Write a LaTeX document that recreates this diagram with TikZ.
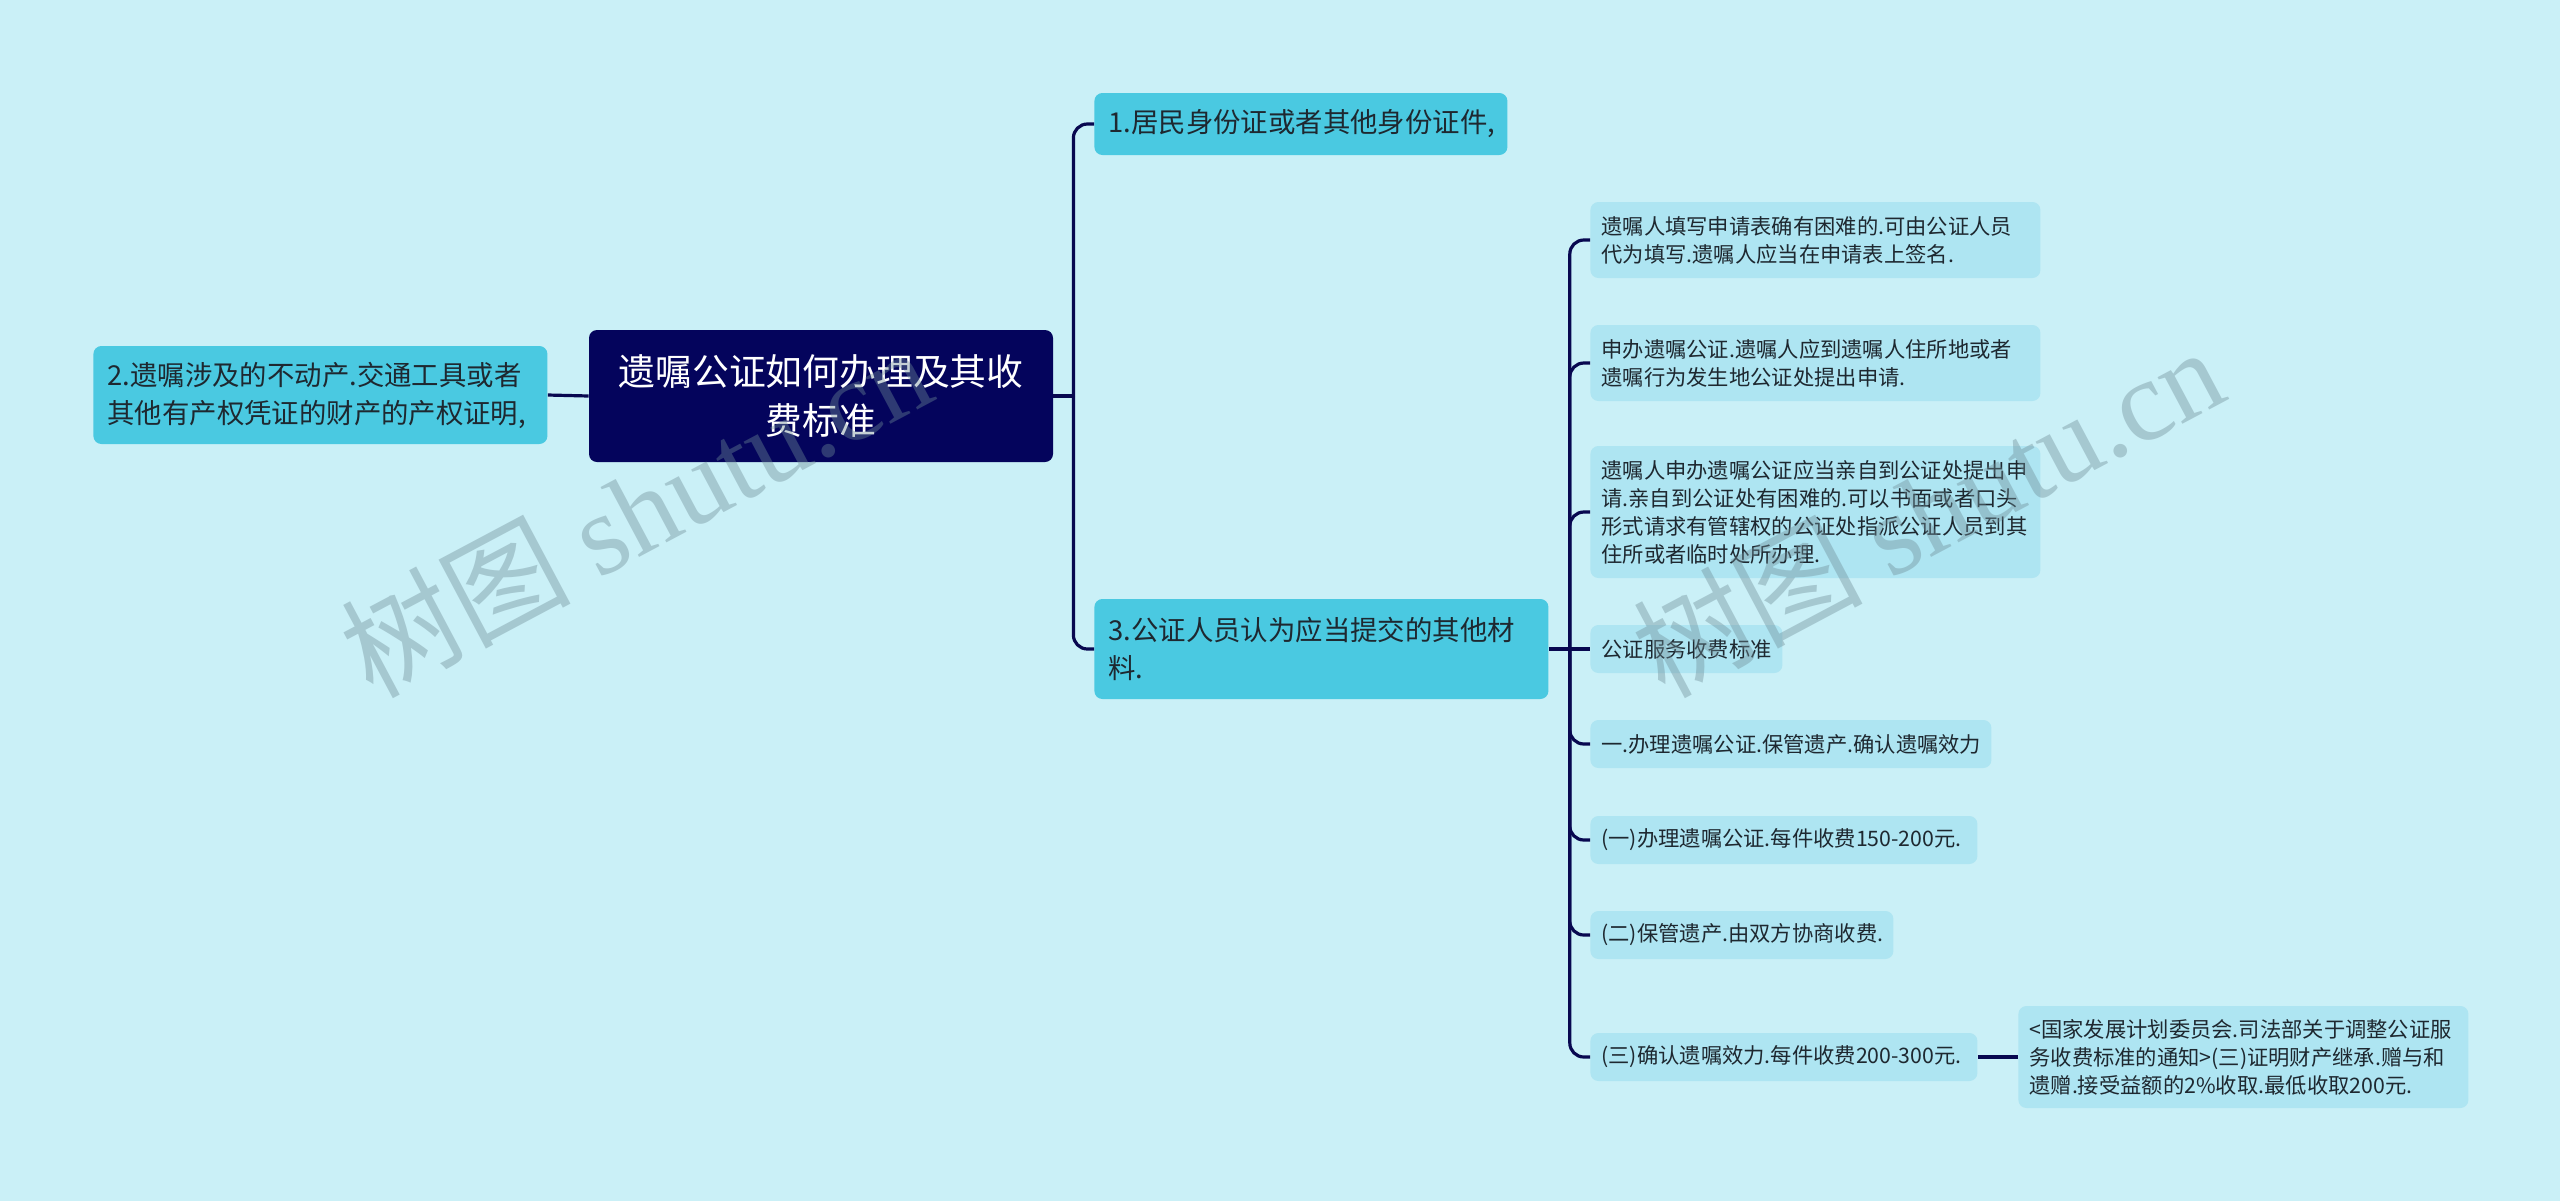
\documentclass[tikz,border=0pt]{standalone}
\usepackage{fontspec}
\setmainfont{Noto Sans CJK SC}
\newfontfamily\wmlatin{Liberation Serif}
\usetikzlibrary{calc}
\definecolor{bgc}{RGB}{202,240,247}
\definecolor{rootc}{RGB}{4,4,92}
\definecolor{lvone}{RGB}{74,201,225}
\definecolor{lvtwo}{RGB}{174,229,242}
\definecolor{linec}{RGB}{8,8,80}
\definecolor{txtc}{RGB}{30,40,48}
\definecolor{wmc}{RGB}{110,140,150}
\begin{document}
\begin{tikzpicture}[x=0.5pt,y=-0.5pt,
 rootbox/.style={fill=rootc, text=white, rounded corners=4pt, align=center, minimum width=232pt, minimum height=66pt, inner sep=0pt, font=\fontsize{18.4}{24.5}\selectfont},
 onebox/.style={fill=lvone, text=txtc, rounded corners=4pt, align=left, inner xsep=7pt, inner ysep=0pt, text width=#1, font=\fontsize{13.7}{19}\selectfont, anchor=west},
 twobox/.style={fill=lvtwo, text=txtc, rounded corners=4pt, align=left, inner xsep=5.5pt, inner ysep=0pt, text width=#1, font=\fontsize{10.65}{14}\selectfont, anchor=west},
 conn/.style={draw=linec, line width=1.6pt},
 elbow/.style={conn, rounded corners=7pt},
 wm/.style={text=wmc, text opacity=0.4, rotate=28, anchor=base west, inner sep=0pt, font=\fontsize{57.5}{57.5}\selectfont}
]
\fill[bgc] (0,0) rectangle (2560,1201);

% root and first level
\node[rootbox] (root) at (821,396) {遗嘱公证如何办理及其收\\费标准};
\node[onebox=213pt, minimum height=49pt] (left) at (93,395) {2.遗嘱涉及的不动产.交通工具或者\\其他有产权凭证的财产的产权证明,};
\node[onebox=192.5pt, minimum height=31pt] (n1) at (1094,124) {1.居民身份证或者其他身份证件,};
\node[onebox=213pt, minimum height=50pt] (n3) at (1094,649) {3.公证人员认为应当提交的其他材\\料.};

% second level
\node[twobox=214pt, minimum height=38pt] (a) at (1590,240) {遗嘱人填写申请表确有困难的.可由公证人员\\代为填写.遗嘱人应当在申请表上签名.};
\node[twobox=214pt, minimum height=38pt] (b) at (1590,363) {申办遗嘱公证.遗嘱人应到遗嘱人住所地或者\\遗嘱行为发生地公证处提出申请.};
\node[twobox=214pt, minimum height=66pt] (c) at (1590,512) {遗嘱人申办遗嘱公证应当亲自到公证处提出申\\请.亲自到公证处有困难的.可以书面或者口头\\形式请求有管辖权的公证处指派公证人员到其\\住所或者临时处所办理.};
\node[twobox=85pt, minimum height=24pt] (d) at (1590,649) {公证服务收费标准};
\node[twobox=189.5pt, minimum height=24pt] (e) at (1590,744) {一.办理遗嘱公证.保管遗产.确认遗嘱效力};
\node[twobox=182.5pt, minimum height=24pt] (f) at (1590,840) {(一)办理遗嘱公证.每件收费150-200元.};
\node[twobox=140.5pt, minimum height=24pt] (g) at (1590,935) {(二)保管遗产.由双方协商收费.};
\node[twobox=182.5pt, minimum height=24pt] (h) at (1590,1057) {(三)确认遗嘱效力.每件收费200-300元.};
\node[twobox=214pt, minimum height=51pt] (i) at (2018,1057) {<国家发展计划委员会.司法部关于调整公证服\\务收费标准的通知>(三)证明财产继承.赠与和\\遗赠.接受益额的2\%收取.最低收取200元.};

% connectors
\draw[conn] (root.west) -- (left.east);
\coordinate (j1) at ($(root.east)+(20,0)$);
\draw[conn] (root.east) -- (j1);
\draw[elbow] (j1) |- (n1.west);
\draw[elbow] (j1) |- (n3.west);
\coordinate (j2) at ($(n3.east)+(21,0)$);
\draw[conn] (n3.east) -- (d.west);
\foreach \k in {a,b,c,e,f,g,h} {\draw[elbow] (j2) |- (\k.west);}
\draw[conn] (h.east) -- (i.west);

% watermarks
\node[wm] (wm1) at (372,700) {树图 {\wmlatin shutu.cn}};
\node[wm] (wm2) at (1664,700) {树图 {\wmlatin shutu.cn}};
\end{tikzpicture}
\end{document}
